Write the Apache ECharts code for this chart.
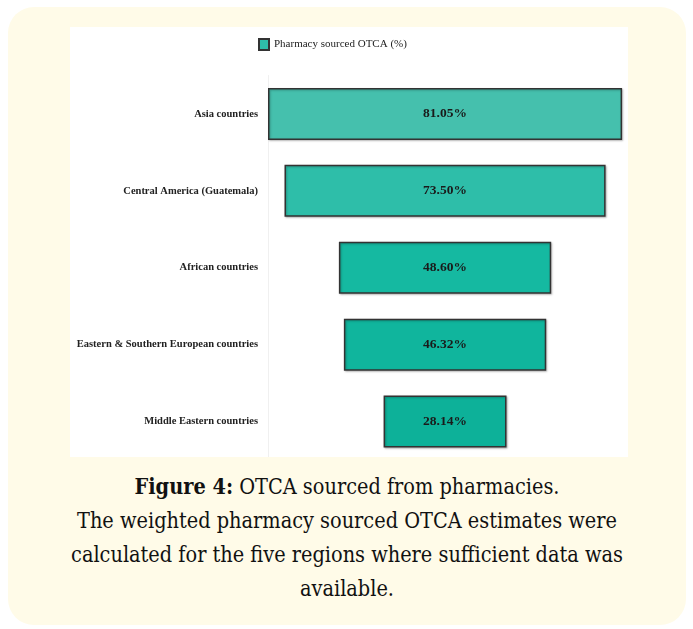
<!DOCTYPE html>
<html>
<head>
<meta charset="utf-8">
<script src="https://cdn.jsdelivr.net/npm/echarts@6/dist/echarts.min.js"></script>
<style>
  body { margin: 0; background: #fff; width: 693px; height: 629px; position: relative; overflow: hidden; }
  #card {
    position: absolute; left: 8px; top: 7px; width: 678px; height: 618px;
    background: #fffbe8; border-radius: 26px;
  }
  #chart {
    position: absolute; left: 70px; top: 27px; width: 558px; height: 430px;
    background: #fff;
  }
  #caption {
    position: absolute; left: 8px; top: 470px; width: 678px;
    text-align: center; color: #111;
    font-family: "DejaVu Serif Condensed", "DejaVu Serif", serif;
    font-size: 21.5px; line-height: 34px;
  }
</style>
</head>
<body>
<div id="card"></div>
<div id="chart"></div>
<div id="caption"><b>Figure 4:</b> OTCA sourced from pharmacies.<br>The weighted pharmacy sourced OTCA estimates were<br>calculated for the five regions where sufficient data was<br>available.</div>
<script>
// Chart data
var regions = ['Asia countries', 'Central America (Guatemala)', 'African countries',
               'Eastern & Southern European countries', 'Middle Eastern countries'];
var pharmacyOtca = [81.05, 73.50, 48.60, 46.32, 28.14];
var barColors = ['#45c0ad', '#2ebea9', '#15b9a1', '#10b59d', '#0db199'];

// Bars are centred on half of the largest value
var centre = Math.max.apply(null, pharmacyOtca) / 2;
var axisMax = 82.4;

var chartDom = document.getElementById('chart');
var chart = echarts.init(chartDom);

var offsets = pharmacyOtca.map(function (v) { return centre - v / 2; });

chart.setOption({
    animation: false,
    textStyle: { fontFamily: 'Liberation Serif, serif' },
    legend: {
        data: ['Pharmacy sourced OTCA (%)'],
        left: 183,
        top: 6,
        icon: 'rect',
        itemWidth: 10,
        itemHeight: 11,
        itemGap: 4,
        textStyle: { fontSize: 11, color: '#222', fontFamily: 'Liberation Serif, serif' }
    },
    grid: { left: 198, top: 48.5, width: 360, height: 384.5, outerBoundsMode: 'none' },
    xAxis: {
        type: 'value',
        min: 0,
        max: axisMax,
        show: false
    },
    yAxis: {
        type: 'category',
        data: regions,
        inverse: true,
        axisTick: { show: false },
        axisLine: { show: true, lineStyle: { color: '#f0f0f0', width: 1 } },
        axisLabel: {
            margin: 10,
            fontSize: 10.5,
            fontWeight: 'bold',
            color: '#222',
            fontFamily: 'Liberation Serif, serif'
        }
    },
    series: [
        {
            name: 'offset',
            type: 'bar',
            stack: 'total',
            silent: true,
            itemStyle: { color: 'transparent' },
            data: offsets
        },
        {
            name: 'Pharmacy sourced OTCA (%)',
            type: 'bar',
            stack: 'total',
            barWidth: 52,
            itemStyle: {
                color: '#2ebea9',
                borderColor: '#333',
                borderWidth: 1.5,
                shadowColor: 'rgba(0,0,0,0.25)',
                shadowBlur: 2,
                shadowOffsetX: 1,
                shadowOffsetY: 1
            },
            label: {
                show: true,
                position: 'inside',
                formatter: function (p) { return p.value.toFixed(2) + '%'; },
                fontSize: 13.5,
                fontWeight: 'bold',
                color: '#1a1a1a',
                fontFamily: 'Liberation Serif, serif'
            },
            data: pharmacyOtca.map(function (v, i) {
                return { value: v, itemStyle: { color: barColors[i] } };
            })
        }
    ]
});
</script>
</body>
</html>
